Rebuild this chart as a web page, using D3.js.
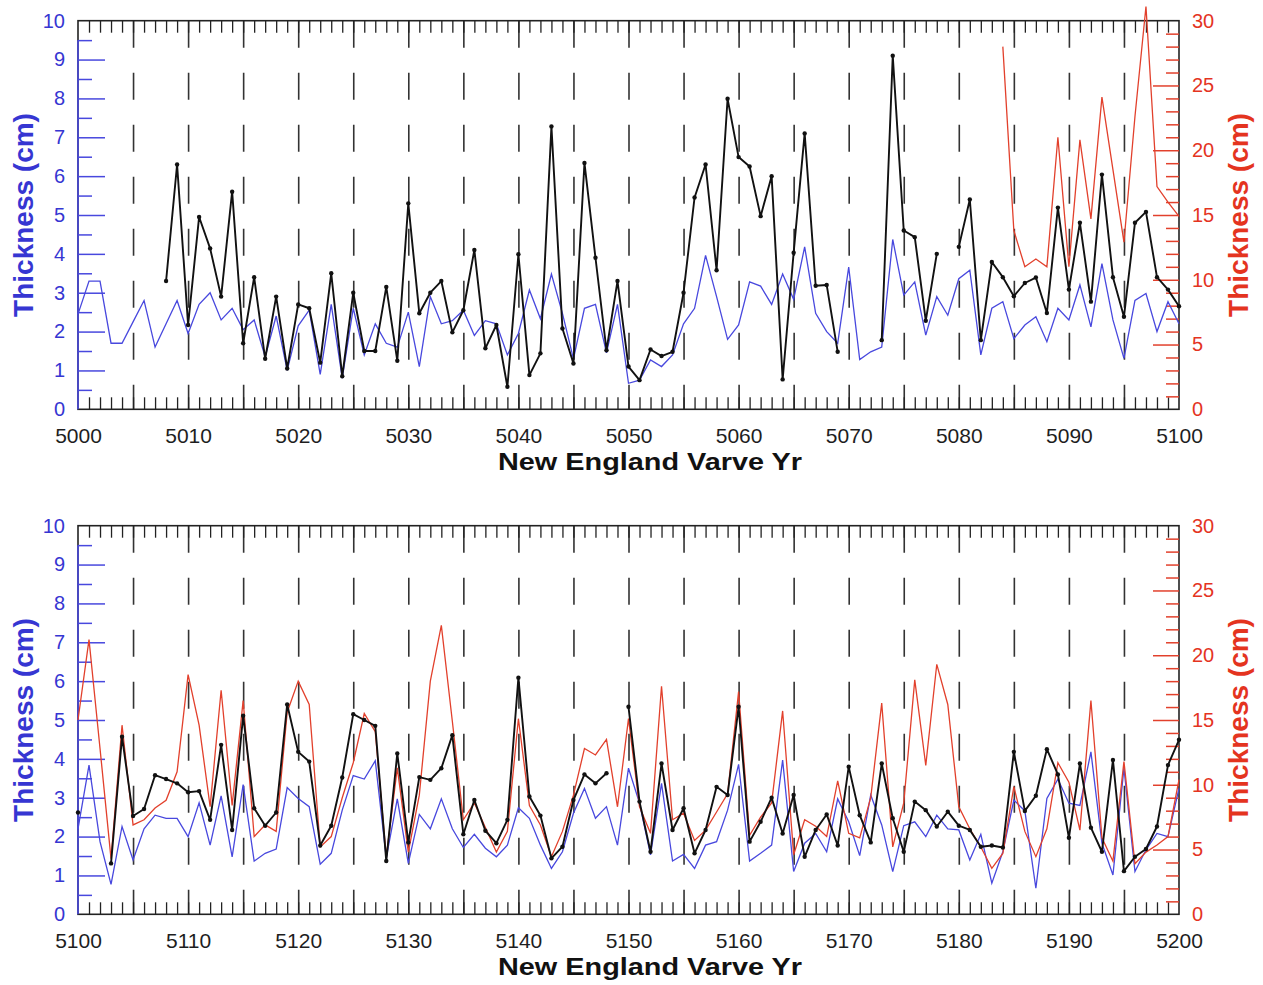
<!DOCTYPE html>
<html>
<head>
<meta charset="utf-8">
<script src="https://cdn.jsdelivr.net/npm/d3@7"></script>
<style>
    body { margin: 0; background: #fff; }
    svg { display: block; font-family: Arial, "Liberation Sans", sans-serif; }
</style>
</head>
<body>
<div id="chart"></div>
<script>
// ---- DATA ----
// upper panel: New England Varve Yr 5000-5100
const topStart = 5000;
const topBlue = [2.45, 3.3, 3.3, 1.7, 1.7, 2.25, 2.8, 1.6, 2.2, 2.8,
    1.95, 2.7, 3.0, 2.3, 2.6, 2.05, 2.3, 1.35, 2.4, 1.0,
    2.15, 2.55, 0.9, 2.7, 0.8, 2.6, 1.4, 2.2, 1.7, 1.6,
    2.5, 1.1, 2.9, 2.2, 2.28, 2.55, 1.9, 2.28, 2.2, 1.4,
    1.95, 3.07, 2.33, 3.48, 2.47, 1.3, 2.6, 2.7, 1.45, 2.7,
    0.67, 0.75, 1.27, 1.1, 1.4, 2.2, 2.6, 3.96, 2.9, 1.8,
    2.17, 3.28, 3.17, 2.7, 3.48, 2.83, 4.18, 2.47, 2.0, 1.7,
    3.66, 1.28, 1.48, 1.6, 4.37, 2.94, 3.28, 1.91, 2.9, 2.42,
    3.36, 3.58, 1.4, 2.6, 2.77, 1.82, 2.17, 2.38, 1.74, 2.6,
    2.3, 3.2, 2.12, 3.75, 2.3, 1.31, 2.8, 2.98, 2.0, 2.77,
    2.2];
const topBlack = [null, null, null, null, null, null, null, null, 3.3, 6.3,
    2.17, 4.95, 4.14, 2.9, 5.6, 1.7, 3.4, 1.3, 2.9, 1.05,
    2.7, 2.6, 1.2, 3.5, 0.85, 3.0, 1.5, 1.5, 3.15, 1.25,
    5.3, 2.47, 3.0, 3.3, 1.98, 2.55, 4.1, 1.57, 2.17, 0.58,
    3.99, 0.88, 1.44, 7.28, 2.08, 1.18, 6.34, 3.9, 1.52, 3.3,
    1.1, 0.75, 1.54, 1.37, 1.48, 3.0, 5.45, 6.3, 3.58, 7.99,
    6.49, 6.25, 4.97, 6.0, 0.77, 4.03, 7.1, 3.18, 3.2, 1.48,
    null, null, null, 1.78, 9.1, 4.6, 4.43, 2.28, 4.0, null,
    4.18, 5.4, 1.78, 3.79, 3.4, 2.91, 3.25, 3.39, 2.48, 5.19,
    3.08, 4.8, 2.77, 6.04, 3.4, 2.38, 4.8, 5.08, 3.4, 3.08,
    2.65];
const topRedStart = 5084;
const topRed = [28.0, 13.8, 11.0, 11.6, 11.0, 21.0, 11.0, 20.8, 14.7, 24.1,
    18.5, 12.9, 22.6, 31.1, 17.2, 16.0, 14.9];

// lower panel: New England Varve Yr 5100-5200
const bottomStart = 5100;
const bottomBlue = [2.2, 3.84, 1.87, 0.77, 2.26, 1.4, 2.2, 2.55, 2.47, 2.47,
    2.0, 2.87, 1.78, 3.05, 1.48, 3.34, 1.37, 1.57, 1.68, 3.26,
    2.98, 2.77, 1.29, 1.57, 2.68, 3.57, 3.48, 3.95, 1.45, 2.97,
    1.31, 2.57, 2.2, 2.97, 2.2, 1.72, 2.06, 1.7, 1.48, 1.78,
    2.74, 2.47, 1.78, 1.18, 1.61, 2.6, 3.24, 2.47, 2.77, 1.78,
    3.76, 2.86, 1.53, 3.37, 1.37, 1.54, 1.18, 1.78, 1.87, 2.68,
    3.86, 1.37, 1.57, 1.78, 3.97, 1.1, 1.83, 2.08, 1.61, 2.97,
    2.38, 1.51, 3.07, 2.3, 1.1, 2.28, 2.38, 2.0, 2.55, 2.2,
    2.17, 1.4, 2.06, 0.8, 1.61, 2.94, 2.66, 0.67, 2.98, 3.48,
    2.86, 2.8, 4.18, 1.83, 1.01, 3.76, 1.1, 1.66, 2.08, 2.0,
    3.24];
const bottomBlack = [2.62, null, null, 1.31, 4.57, 2.53, 2.71, 3.58, 3.48, 3.37,
    3.14, 3.17, 2.43, 4.36, 2.17, 5.11, 2.73, 2.28, 2.62, 5.4,
    4.18, 3.93, 1.77, 2.28, 3.52, 5.15, 5.0, 4.85, 1.37, 4.14,
    1.85, 3.53, 3.46, 3.76, 4.61, 2.06, 2.94, 2.15, 1.83, 2.43,
    6.09, 3.03, 2.54, 1.44, 1.74, 2.94, 3.6, 3.37, 3.63, null,
    5.34, 2.9, 1.61, 3.88, 2.17, 2.73, 1.57, 2.17, 3.28, 3.07,
    5.34, 1.87, 2.38, 3.0, 2.08, 3.07, 1.48, 2.17, 2.57, 1.77,
    3.8, 2.55, 1.85, 3.88, 2.47, 1.61, 2.9, 2.68, 2.26, 2.64,
    2.28, 2.17, 1.74, 1.77, 1.72, 4.18, 2.66, 3.05, 4.25, 3.6,
    1.97, 3.88, 2.23, 1.61, 3.97, 1.11, 1.48, 1.68, 2.26, 3.84,
    4.49];
const bottomRedStart = 5100;
const bottomRed = [15.0, 21.2, 12.8, 4.3, 14.6, 6.9, 7.3, 8.2, 8.8, 11.0,
    18.5, 14.6, 8.3, 17.3, 8.4, 16.5, 6.0, 6.9, 6.4, 15.6,
    18.0, 16.2, 5.2, 6.0, 9.0, 11.7, 15.5, 14.1, 4.45, 11.3,
    4.8, 9.2, 18.0, 22.3, 14.9, 7.3, 8.6, 6.7, 4.8, 6.4,
    15.1, 8.4, 6.9, 4.45, 6.4, 9.2, 12.8, 12.3, 13.5, 8.3,
    15.1, 8.3, 6.25, 17.6, 7.3, 7.8, 5.7, 6.5, 7.9, 9.3,
    17.2, 6.1, 7.5, 8.6, 15.7, 4.6, 7.3, 6.8, 6.0, 10.3,
    6.25, 5.9, 9.0, 16.3, 5.2, 8.6, 18.1, 11.5, 19.3, 16.2,
    8.3, 6.6, 5.2, 3.55, 4.7, 9.85, 6.4, 4.45, 6.6, 11.7,
    10.2, 6.5, 16.5, 5.9, 4.1, 11.8, 3.9, 4.8, 5.35, 6.0,
    10.4];

const xTitle = "New England Varve Yr";
const yTitle = "Thickness (cm)";
const leftTicks = [0, 1, 2, 3, 4, 5, 6, 7, 8, 9, 10];
const rightTicks = [0, 5, 10, 15, 20, 25, 30];

// ---- LAYOUT ----
const W = 1263, H = 985;
const frame = { left: 78, right: 1179, top: 20.7, bottom: 409.3 };
const panelGap = 505;
const FONT = "Arial, 'Liberation Sans', sans-serif";

const BLUE_TXT = "#3636d2", BLUE_LN = "#4848de";
const RED_TXT = "#e4341f", RED_LN = "#e2402c";
const INK = "#222";

const svg = d3.select("#chart").append("svg")
    .attr("width", W)
    .attr("height", H);

function toPoints(start, values) {
    return values.map((v, i) => ({ yr: start + i, v: v }));
}

function drawPanel(offsetY, start, blue, black, redStart, red) {
    const g = svg.append("g").attr("transform", "translate(0," + offsetY + ")");

    const x = d3.scaleLinear().domain([start, start + 100]).range([frame.left, frame.right]);
    const yL = d3.scaleLinear().domain([0, 10]).range([frame.bottom, frame.top]);
    const yR = d3.scaleLinear().domain([0, 30]).range([frame.bottom, frame.top]);
    const ph = frame.bottom - frame.top;

    const everyYear = d3.range(start + 1, start + 100);
    const fives = d3.range(start + 5, start + 100, 5);
    const tens = d3.range(start, start + 101, 10);

    // dashed 5-year lines (first/last dash act as the long ticks)
    g.append("g")
        .attr("transform", "translate(0," + frame.top + ")")
        .call(d3.axisTop(x).tickValues(fives).tickSizeInner(-ph).tickSizeOuter(0).tickFormat(""))
        .call(a => a.select(".domain").remove())
        .call(a => a.selectAll("line").attr("stroke", "#333").attr("stroke-width", 1.6)
            .attr("stroke-dasharray", "27,25"));

    // minor year ticks, top and bottom
    g.append("g")
        .attr("transform", "translate(0," + frame.top + ")")
        .call(d3.axisTop(x).tickValues(everyYear).tickSizeInner(-12).tickSizeOuter(0).tickFormat(""))
        .call(a => a.select(".domain").remove())
        .call(a => a.selectAll("line").attr("stroke", INK).attr("stroke-width", 1.3));

    g.append("g")
        .attr("transform", "translate(0," + frame.bottom + ")")
        .call(d3.axisBottom(x).tickValues(everyYear).tickSizeInner(-12).tickSizeOuter(0).tickFormat(""))
        .call(a => a.select(".domain").remove())
        .call(a => a.selectAll("line").attr("stroke", INK).attr("stroke-width", 1.3));

    // year labels
    g.append("g")
        .attr("transform", "translate(0," + frame.bottom + ")")
        .call(d3.axisBottom(x).tickValues(tens).tickSize(0).tickPadding(19).tickFormat(d3.format("d")))
        .call(a => a.select(".domain").remove())
        .call(a => a.selectAll("text").attr("fill", "#1e1e1e").style("font-size", "21px")
            .style("font-family", FONT));

    // frame
    g.append("rect")
        .attr("x", frame.left).attr("y", frame.top)
        .attr("width", frame.right - frame.left).attr("height", ph)
        .attr("fill", "none").attr("stroke", INK).attr("stroke-width", 1.6);

    // left (blue) axis
    g.append("g")
        .attr("transform", "translate(" + frame.left + ",0)")
        .call(d3.axisLeft(yL).tickValues(d3.range(1, 10)).tickSizeInner(-27).tickSizeOuter(0).tickFormat(""))
        .call(a => a.select(".domain").remove())
        .call(a => a.selectAll("line").attr("stroke", BLUE_LN).attr("stroke-width", 1.5));
    g.append("g")
        .attr("transform", "translate(" + frame.left + ",0)")
        .call(d3.axisLeft(yL).tickValues(d3.range(0.5, 10, 1)).tickSizeInner(-14).tickSizeOuter(0).tickFormat(""))
        .call(a => a.select(".domain").remove())
        .call(a => a.selectAll("line").attr("stroke", BLUE_LN).attr("stroke-width", 1.5));
    g.append("line")
        .attr("x1", frame.left).attr("x2", frame.left)
        .attr("y1", yL(0)).attr("y2", yL(9.5))
        .attr("stroke", BLUE_LN).attr("stroke-width", 1.6);
    g.append("g")
        .attr("transform", "translate(" + frame.left + ",0)")
        .call(d3.axisLeft(yL).tickValues(leftTicks).tickSize(0).tickPadding(13).tickFormat(d3.format("d")))
        .call(a => a.select(".domain").remove())
        .call(a => a.selectAll("text").attr("fill", BLUE_TXT).style("font-size", "20px")
            .style("font-family", FONT));

    // right (red) axis
    g.append("g")
        .attr("transform", "translate(" + frame.right + ",0)")
        .call(d3.axisRight(yR).tickValues([5, 10, 15, 20, 25]).tickSizeInner(-26).tickSizeOuter(0).tickFormat(""))
        .call(a => a.select(".domain").remove())
        .call(a => a.selectAll("line").attr("stroke", RED_LN).attr("stroke-width", 1.5));
    g.append("g")
        .attr("transform", "translate(" + frame.right + ",0)")
        .call(d3.axisRight(yR).tickValues(d3.range(1, 30).filter(d => d % 5 !== 0)).tickSizeInner(-13).tickSizeOuter(0).tickFormat(""))
        .call(a => a.select(".domain").remove())
        .call(a => a.selectAll("line").attr("stroke", RED_LN).attr("stroke-width", 1.5));
    g.append("g")
        .attr("transform", "translate(" + frame.right + ",0)")
        .call(d3.axisRight(yR).tickValues(rightTicks).tickSize(0).tickPadding(13).tickFormat(d3.format("d")))
        .call(a => a.select(".domain").remove())
        .call(a => a.selectAll("text").attr("fill", RED_TXT).style("font-size", "20px")
            .style("font-family", FONT));

    // titles
    g.append("text")
        .attr("x", 650).attr("y", 470)
        .attr("text-anchor", "middle")
        .attr("textLength", 304).attr("lengthAdjust", "spacingAndGlyphs")
        .style("font-size", "24px").style("font-weight", "bold")
        .attr("fill", "#111")
        .text(xTitle);

    g.append("text")
        .attr("transform", "translate(33," + ((frame.top + frame.bottom) / 2) + ") rotate(-90)")
        .attr("text-anchor", "middle")
        .style("font-size", "28px").style("font-weight", "bold")
        .attr("fill", BLUE_TXT)
        .text(yTitle);

    g.append("text")
        .attr("transform", "translate(1248," + ((frame.top + frame.bottom) / 2) + ") rotate(-90)")
        .attr("text-anchor", "middle")
        .style("font-size", "28px").style("font-weight", "bold")
        .attr("fill", RED_TXT)
        .text(yTitle);

    // series
    const blueLine = d3.line().defined(d => d.v != null).x(d => x(d.yr)).y(d => yL(d.v));
    const redLine = d3.line().defined(d => d.v != null).x(d => x(d.yr)).y(d => yR(d.v));

    g.append("path")
        .datum(toPoints(start, blue))
        .attr("d", blueLine)
        .attr("fill", "none").attr("stroke", BLUE_LN).attr("stroke-width", 1.3);

    g.append("path")
        .datum(toPoints(redStart, red))
        .attr("d", redLine)
        .attr("fill", "none").attr("stroke", RED_LN).attr("stroke-width", 1.3);

    const blackPts = toPoints(start, black);
    g.append("path")
        .datum(blackPts)
        .attr("d", blueLine)
        .attr("fill", "none").attr("stroke", "#111").attr("stroke-width", 1.9)
        .attr("stroke-linejoin", "round");

    g.selectAll(".dot")
        .data(blackPts.filter(d => d.v != null))
        .enter()
        .append("circle")
        .attr("class", "dot")
        .attr("cx", d => x(d.yr))
        .attr("cy", d => yL(d.v))
        .attr("r", 2.2)
        .attr("fill", "#111");
}

drawPanel(0, topStart, topBlue, topBlack, topRedStart, topRed);
drawPanel(panelGap, bottomStart, bottomBlue, bottomBlack, bottomRedStart, bottomRed);
</script>
</body>
</html>
